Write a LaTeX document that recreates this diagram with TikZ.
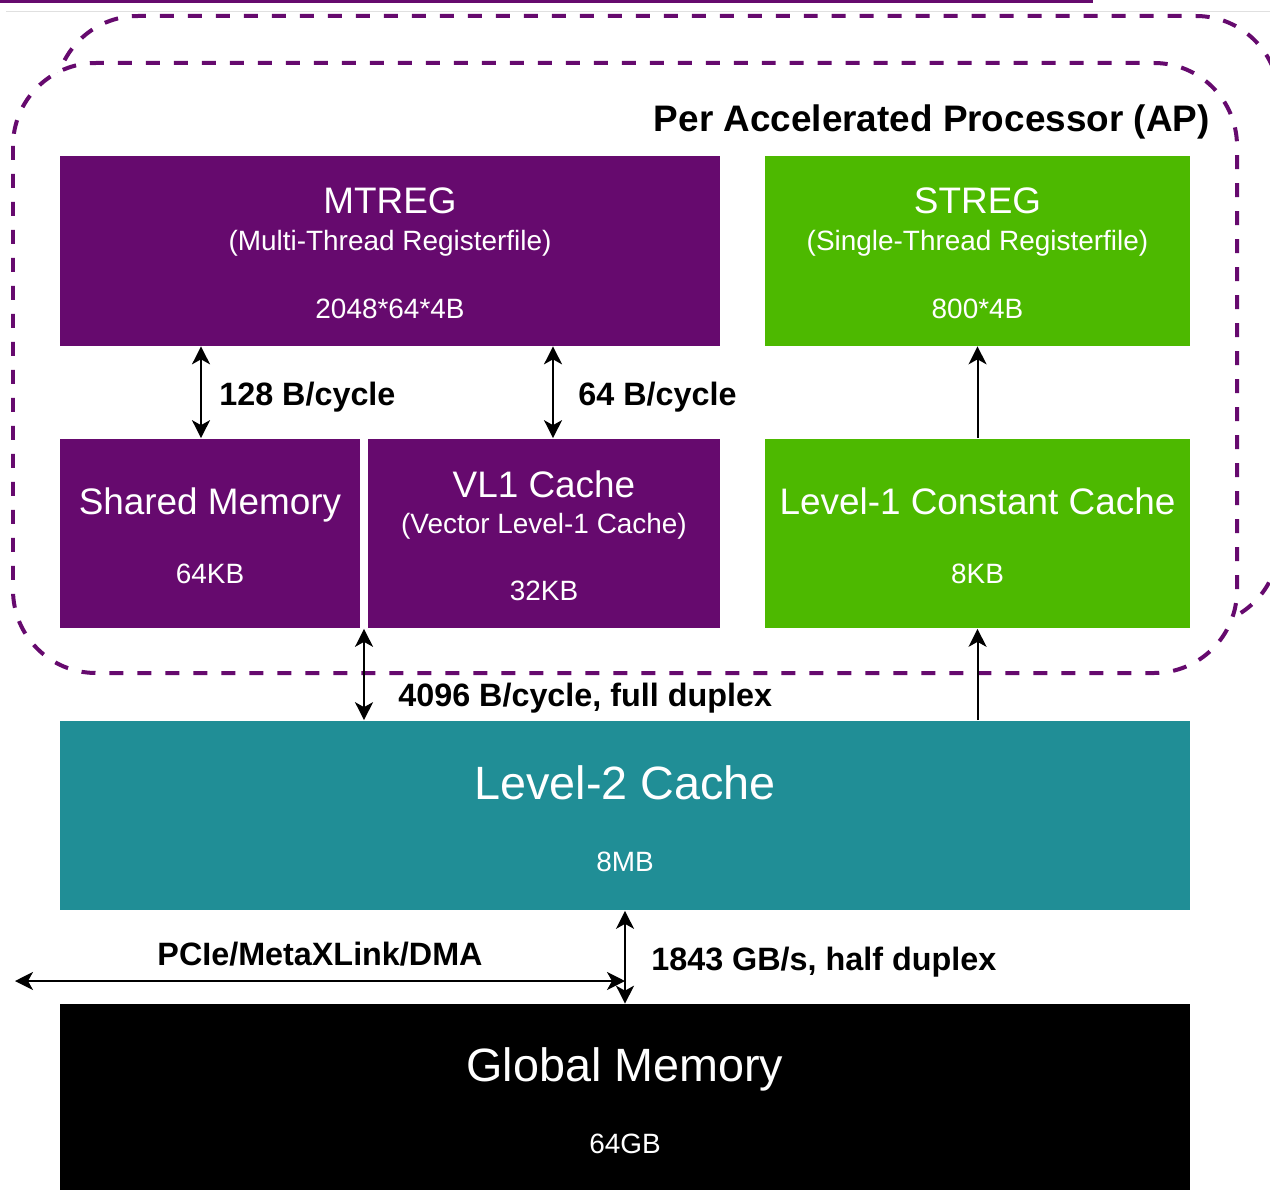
\documentclass[tikz,border=0pt]{standalone}
\usepackage{fontspec}
\setmainfont{Liberation Sans}
\usetikzlibrary{arrows.meta,calc}
\definecolor{apPurple}{RGB}{102,10,110}
\definecolor{apGreen}{RGB}{77,185,0}
\definecolor{apTeal}{RGB}{32,142,150}

\begin{document}
\begin{tikzpicture}[x=0.02cm, y=-0.02cm,
    >={Stealth[length=0.36cm, width=0.36cm, inset=0.1cm]},
    box/.style={inner sep=0pt, minimum height=3.8cm},
    title/.style={text=white, font=\fontsize{21}{25}\selectfont, anchor=base},
    bigtitle/.style={text=white, font=\fontsize{26.6}{31}\selectfont, anchor=base},
    sub/.style={text=white, font=\fontsize{15.9}{19}\selectfont, anchor=base},
    bw/.style={font=\bfseries\fontsize{18.4}{22}\selectfont, inner sep=0pt, anchor=base west},
    link/.style={line width=0.04cm, <->},
    feed/.style={line width=0.04cm, ->},
    apframe/.style={draw=apPurple, line width=0.08cm, dash pattern=on 0.28cm off 0.28cm,
        rounded corners=1.66cm, fill=white}]
    \useasboundingbox (0, 0) rectangle (1270, 1189);
    % slide strip
    \fill[apPurple] (0, 0) rectangle (1093, 3.5);
    \draw[black!12] (6, 11.5) -- (1270, 11.5);
    % stacked AP frames
    \draw[apframe] (55, 16) rectangle (1279, 626);
    \draw[apframe] (13, 63) rectangle (1237, 673);
    \node[font=\bfseries\fontsize{21}{25}\selectfont, inner sep=0pt, anchor=base east] (aplabel) at (1210, 132) {Per Accelerated Processor (AP)};

    % storage blocks
    \node[box, fill=apPurple, minimum width=13.2cm] (mtreg) at (390, 251) {};
    \node[box, fill=apGreen, minimum width=8.5cm] (streg) at (977.5, 251) {};
    \node[box, fill=apPurple, minimum width=6cm] (shm) at (210, 533.5) {};
    \node[box, fill=apPurple, minimum width=7.04cm] (vl1) at (544, 533.5) {};
    \node[box, fill=apGreen, minimum width=8.5cm] (l1c) at (977.5, 533.5) {};
    \node[box, fill=apTeal, minimum width=22.6cm] (l2) at (625, 815.5) {};
    \node[box, fill=black, minimum width=22.6cm] (gmem) at (625, 1099) {};

    \node[title] (mtregt) at (390, 214) {MTREG};
    \node[sub] (mtregs) at (390, 251) {(Multi-Thread Registerfile)};
    \node[sub] (mtregn) at (390, 318) {2048*64*4B};
    \node[title] (stregt) at (977.5, 214) {STREG};
    \node[sub] (stregs) at (977.5, 251) {(Single-Thread Registerfile)};
    \node[sub] (stregn) at (977.5, 318) {800*4B};
    \node[title] (shmt) at (210, 514) {Shared Memory};
    \node[sub] (shmn) at (210, 583) {64KB};
    \node[title] (vl1t) at (544, 497) {VL1 Cache};
    \node[sub] (vl1s) at (544, 533) {(Vector Level-1 Cache)};
    \node[sub] (vl1n) at (544, 600) {32KB};
    \node[title] (l1ct) at (977.5, 514) {Level-1 Constant Cache};
    \node[sub] (l1cn) at (977.5, 583) {8KB};
    \node[bigtitle] (l2t) at (625, 799) {Level-2 Cache};
    \node[sub] (l2n) at (625, 871) {8MB};
    \node[bigtitle] (gmemt) at (625, 1081) {Global Memory};
    \node[sub] (gmemn) at (625, 1153) {64GB};

    % bandwidths
    \coordinate (gap) at ($(shm.south east)!0.5!(vl1.south west)$);
    \coordinate (host) at (15, 981);
    \draw[link] ([xshift=-0.18cm]shm.north) -- ([xshift=-0.18cm]shm.north |- mtreg.south);
    \draw[link] ([xshift=0.18cm]vl1.north) -- ([xshift=0.18cm]vl1.north |- mtreg.south);
    \draw[feed] (l1c.north) -- (streg.south);
    \draw[link] (gap) -- (gap |- l2.north);
    \draw[feed] (l1c.south |- l2.north) -- (l1c.south);
    \draw[link] (l2.south) -- (gmem.north);
    \draw[link] (host) -- (host -| gmem.north);

    \node[bw] (bw128) at (219, 405) {128 B/cycle};
    \node[bw] (bw64) at (578, 405) {64 B/cycle};
    \node[bw] (bw4096) at (398, 706) {4096 B/cycle, full duplex};
    \node[bw] (bw1843) at (651, 970) {1843 GB/s, half duplex};
    \node[bw, anchor=base] (pcie) at (320, 965) {PCIe/MetaXLink/DMA};
\end{tikzpicture}
\end{document}
